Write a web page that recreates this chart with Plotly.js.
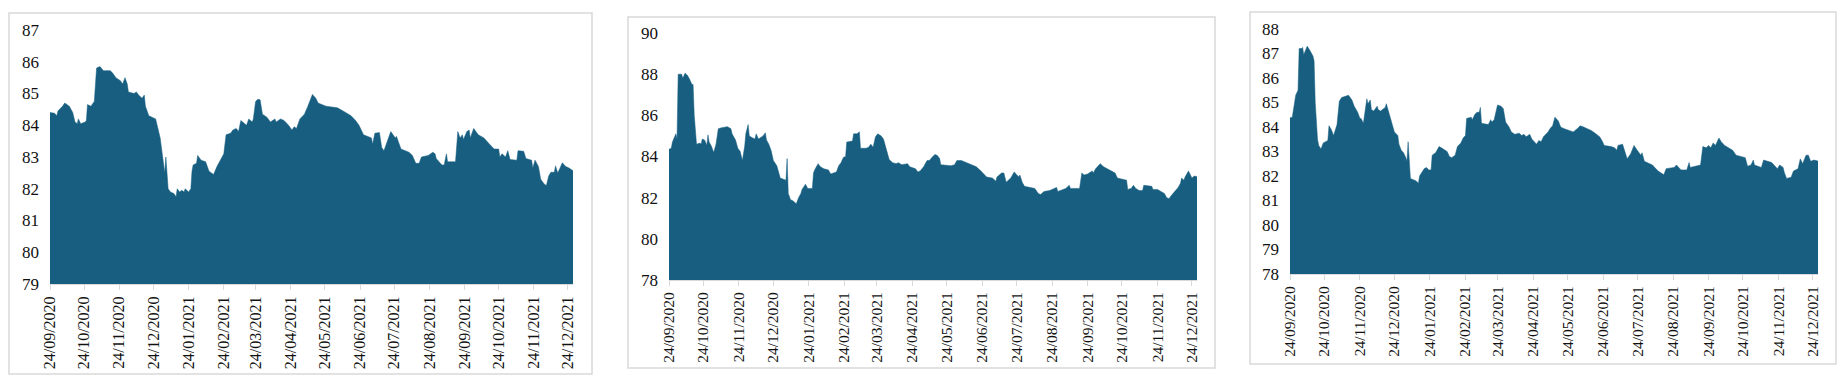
<!DOCTYPE html>
<html>
<head>
<meta charset="utf-8">
<script src="https://cdn.plot.ly/plotly-3.0.1.min.js"></script>
<style>html,body{margin:0;padding:0;background:#fff;}#chart{width:1843px;height:377px;}</style>
</head>
<body>
<div id="chart"></div>
<script>
// Day offsets from 24/09/2020 and values
const startDate = "2020-09-24";

const days1 = [0,4,6,7,11,13,17,20,22,24,25,27,31,32,33,36,39,41,44,47,53,55,58,62,64,66,68,69,74,76,78,81,83,84,87,93,97,99,101,102,104,106,109,111,112,114,116,118,119,122,124,125,126,129,130,133,137,140,144,147,152,153,155,159,161,164,166,168,173,175,178,179,181,183,185,187,191,194,198,199,203,206,210,213,215,217,220,224,227,231,234,236,243,253,258,265,269,272,276,283,284,286,290,292,294,297,300,304,305,307,309,316,319,322,325,327,333,337,339,340,345,347,349,350,357,359,361,363,364,367,369,370,373,377,382,387,391,395,396,398,401,403,405,411,412,417,419,424,425,427,430,432,435,437,439,441,444,445,447,449,451,454,457,461];
const vals1 = [84.4,84.38,84.3,84.45,84.6,84.7,84.6,84.4,84.1,84.05,84.2,84.05,84.1,84.15,84.65,84.6,84.75,85.8,85.85,85.72,85.72,85.65,85.5,85.4,85.3,85.5,85.3,85.05,85.0,85.05,84.95,84.85,84.95,84.6,84.3,84.2,83.6,83.0,82.5,83.0,82.0,81.9,81.85,81.75,82.0,81.9,81.95,81.9,82.0,81.9,82.0,82.55,82.75,82.8,83.05,82.9,82.85,82.55,82.45,82.7,83.05,83.1,83.7,83.75,83.85,83.9,83.8,84.15,84.0,84.2,84.1,84.2,84.75,84.82,84.8,84.35,84.25,84.1,84.2,84.1,84.2,84.15,84.0,83.85,83.95,83.9,84.2,84.35,84.6,84.97,84.85,84.7,84.6,84.55,84.45,84.3,84.15,84.0,83.7,83.6,83.4,83.75,83.77,83.3,83.2,83.5,83.8,83.6,83.65,83.45,83.25,83.15,83.05,82.8,82.8,83.0,83.05,83.15,83.1,82.95,82.75,82.75,83.1,82.85,82.85,83.8,83.6,83.7,83.55,83.8,83.85,83.6,83.9,83.7,83.6,83.4,83.25,83.25,83.0,83.1,83.0,83.2,82.92,82.9,83.2,83.18,82.95,82.9,82.65,82.9,82.7,82.3,82.15,82.1,82.4,82.52,82.52,82.72,82.5,82.65,82.82,82.7,82.65,82.55];

const days2 = [0,2,3,5,6,7,8,11,12,14,16,18,20,21,22,24,27,28,29,31,33,34,35,37,39,41,43,46,49,51,54,55,58,60,62,64,66,67,69,70,73,75,76,78,82,84,85,87,89,91,94,96,97,102,103,104,106,108,111,113,115,116,119,121,125,126,127,130,132,135,139,141,146,148,150,152,154,155,160,161,164,166,167,172,174,176,178,180,182,185,187,190,192,195,198,200,203,208,210,215,217,219,222,225,227,230,232,234,236,237,246,249,251,255,262,268,272,277,282,285,286,290,292,294,298,301,305,306,308,310,319,322,324,327,332,338,339,346,349,350,358,360,362,365,369,370,372,376,379,386,389,391,399,400,403,405,407,410,413,414,421,422,426,429,432,434,436,438,441,444,446,447,449,450,453,454,456,458,462];
const vals2 = [84.35,84.4,84.7,85.0,85.1,84.85,88.0,88.0,87.8,88.05,87.95,87.75,87.5,87.5,86.0,84.6,84.65,84.6,84.85,84.8,84.55,85.05,84.7,84.5,84.2,84.6,85.35,85.4,85.45,85.45,85.35,85.1,84.8,84.4,84.25,83.8,84.5,85.1,85.55,85.0,84.9,84.85,85.1,84.85,85.0,85.15,84.8,84.6,84.3,83.8,83.55,83.2,82.95,82.85,83.9,82.2,81.9,81.85,81.7,82.0,82.2,82.4,82.65,82.45,82.45,83.2,83.35,83.65,83.5,83.4,83.35,83.15,83.25,83.55,83.7,83.95,84.0,84.7,84.75,85.1,85.1,85.2,84.4,84.4,84.45,84.6,84.45,84.95,85.1,85.0,84.85,84.25,83.85,83.7,83.65,83.7,83.6,83.65,83.5,83.4,83.25,83.3,83.5,83.8,83.8,84.0,84.1,84.05,83.9,83.6,83.55,83.6,83.8,83.8,83.65,83.5,83.3,83.0,82.95,82.8,83.0,83.2,83.2,82.75,82.95,83.25,83.0,83.1,82.75,82.55,82.45,82.2,82.15,82.3,82.35,82.5,82.3,82.45,82.6,82.45,82.45,83.2,83.1,83.15,83.3,83.2,83.4,83.65,83.5,83.3,83.2,82.95,82.85,82.4,82.45,82.6,82.45,82.35,82.35,82.6,82.55,82.4,82.4,82.3,82.2,82.0,81.95,82.1,82.3,82.5,82.7,82.95,82.85,83.0,83.3,83.2,82.95,83.05,83.0];

const days3 = [0,2,3,5,7,8,10,11,12,14,15,17,20,21,22,24,25,27,29,33,34,36,38,40,41,43,45,51,54,56,59,61,62,64,66,67,68,70,71,73,76,77,79,83,84,86,88,89,91,94,95,97,99,101,102,103,104,105,110,112,113,115,117,119,121,123,124,127,130,132,137,139,141,144,146,149,151,153,154,158,159,161,163,165,166,167,173,175,176,178,180,181,184,186,188,191,193,196,200,202,204,206,209,211,213,215,217,219,221,225,227,229,231,232,234,236,238,244,247,251,253,256,263,266,270,272,274,280,283,285,286,290,292,294,297,299,300,302,306,307,309,316,321,326,328,335,337,341,346,348,349,358,360,363,365,367,369,371,374,376,379,386,389,397,399,402,404,405,411,413,420,423,425,427,430,431,433,437,439,443,445,447,448,450,452,454,457,461];
const vals3 = [84.38,84.4,84.7,85.3,85.5,87.2,87.2,87.25,86.95,87.25,87.3,87.15,86.9,86.7,85.0,83.5,83.25,83.1,83.35,83.45,84.05,83.9,83.65,83.95,84.1,85.05,85.2,85.3,85.1,84.85,84.6,84.35,84.35,84.15,84.7,85.15,84.95,85.1,84.7,84.65,84.85,84.7,84.65,84.8,84.95,84.6,84.3,84.05,83.8,83.65,83.3,83.05,82.95,82.75,82.6,83.4,82.5,81.9,81.8,81.7,82.0,82.15,82.3,82.35,82.25,82.25,82.85,82.95,83.2,83.15,83.0,82.8,82.75,82.85,83.2,83.35,83.55,83.65,84.35,84.4,84.3,84.5,84.6,84.6,84.8,84.15,84.1,84.3,84.2,84.3,84.8,84.9,84.85,84.75,84.2,84.0,83.8,83.7,83.75,83.65,83.7,83.6,83.7,83.5,83.4,83.3,83.45,83.4,83.6,83.8,83.95,84.05,84.4,84.35,84.25,84.0,83.95,83.85,83.8,83.95,84.05,84.0,83.85,83.75,83.6,83.45,83.25,83.2,83.15,83.05,83.25,83.3,83.0,82.7,82.9,83.1,83.25,83.1,82.85,82.95,82.6,82.45,82.2,82.05,82.3,82.35,82.45,82.25,82.25,82.55,82.35,82.45,83.2,83.15,83.25,83.15,83.35,83.25,83.55,83.4,83.25,83.05,82.85,82.75,82.4,82.45,82.65,82.45,82.35,82.65,82.55,82.4,82.3,82.45,82.35,82.15,81.9,81.95,82.2,82.3,82.7,82.5,82.65,82.85,82.85,82.6,82.65,82.6];

const tickLabels = ["24/09/2020","24/10/2020","24/11/2020","24/12/2020","24/01/2021","24/02/2021","24/03/2021","24/04/2021","24/05/2021","24/06/2021","24/07/2021","24/08/2021","24/09/2021","24/10/2021","24/11/2021","24/12/2021"];
const yRanges = [[79,87],[78,90],[78,88]];
const yDtick = [1,2,1];

const START = Date.parse(startDate + "T00:00:00Z");
const toDate = d => new Date(START + d*86400000).toISOString().slice(0,10);
const tickVals = tickLabels.map(s => { const p = s.split("/"); return p[2]+"-"+p[1]+"-"+p[0]; });

const COLOR = "#175e80";
const series = [[days1, vals1],[days2, vals2],[days3, vals3]];
const traces = series.map((s, i) => ({
  type: "scatter", mode: "lines",
  x: s[0].map(toDate), y: s[1],
  fill: "tozeroy", fillcolor: COLOR,
  line: {color: COLOR, width: 0.5},
  xaxis: i === 0 ? "x" : "x" + (i+1),
  yaxis: i === 0 ? "y" : "y" + (i+1),
  hoverinfo: "skip"
}));

const W = 1843, H = 377;
const plots = [
  {l:50, r:573, t:30, b:284, font:16},
  {l:669, r:1197, t:33, b:280, font:15.5},
  {l:1290, r:1818, t:29, b:274, font:15.5}
];
const frames = [
  {l:9, r:592, t:13, b:374},
  {l:628, r:1215, t:17, b:368},
  {l:1250, r:1836, t:12, b:364}
];

const layout = {
  width: W, height: H,
  margin: {l:0, r:0, t:0, b:0},
  paper_bgcolor: "#ffffff", plot_bgcolor: "#ffffff",
  showlegend: false,
  font: {family: "Liberation Serif, Times New Roman, serif", color: "#111"},
  shapes: frames.map(f => ({
    type: "rect", xref: "paper", yref: "paper", layer: "below",
    x0: f.l/W, x1: f.r/W, y0: (H-f.b)/H, y1: (H-f.t)/H,
    line: {color: "#d9d9d9", width: 1.5}, fillcolor: "rgba(0,0,0,0)"
  }))
};
plots.forEach((p, i) => {
  const xs = i === 0 ? "xaxis" : "xaxis" + (i+1);
  const ys = i === 0 ? "yaxis" : "yaxis" + (i+1);
  layout[xs] = {
    type: "date",
    domain: [p.l/W, p.r/W],
    anchor: i === 0 ? "y" : "y" + (i+1),
    range: ["2020-09-24", "2021-12-28 10:00"],
    tickvals: tickVals, ticktext: tickLabels,
    tickangle: -90,
    tickfont: {family: "Liberation Serif, Times New Roman, serif", size: p.font, color: "#111"},
    ticks: "outside", ticklen: 5, tickcolor: "#d9d9d9", tickwidth: 1,
    showline: true, linecolor: "#d9d9d9", linewidth: 1,
    showgrid: false, zeroline: false, fixedrange: true
  };
  layout[ys] = {
    domain: [(H-p.b)/H, (H-p.t)/H],
    anchor: i === 0 ? "x" : "x" + (i+1),
    range: yRanges[i], dtick: yDtick[i], tick0: 0,
    tickfont: {family: "Liberation Serif, Times New Roman, serif", size: 17, color: "#111"},
    ticks: "", showline: false, showgrid: false, zeroline: false,
    ticklabelstandoff: 10, fixedrange: true
  };
});

Plotly.newPlot("chart", traces, layout, {staticPlot: true, displayModeBar: false});
</script>
</body>
</html>
